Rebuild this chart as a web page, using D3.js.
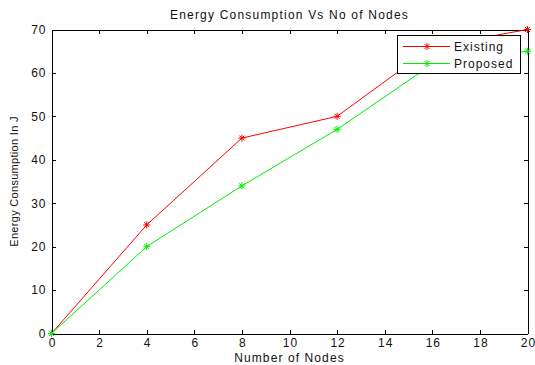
<!DOCTYPE html>
<html lang="en">
<head>
    <meta charset="UTF-8">
    <title>Energy Consumption Vs No of Nodes</title>
    <script src="https://d3js.org/d3.v7.min.js"></script>
    <style>
        html, body {
            margin: 0;
            padding: 0;
            background: #ffffff;
            overflow: hidden;
        }

        svg {
            display: block;
            font-family: "Liberation Sans", Arial, sans-serif;
        }

        .axis path, .axis line {
            stroke: #000;
            shape-rendering: crispEdges;
        }

        .axis text {
            font-size: 12px;
            letter-spacing: 1px;
            fill: #111;
        }

        .series {
            fill: none;
            stroke-width: 1;
        }
    </style>
</head>
<body>

    <svg></svg>

    <script>
        // chart data
        const nodes = [0, 4, 8, 12, 16, 20];
        const existing = [0, 25, 45, 50, 66, 70];
        const proposed = [0, 20, 34, 47, 62, 65];
        const xTicks = [0, 2, 4, 6, 8, 10, 12, 14, 16, 18, 20];
        const yTicks = [0, 10, 20, 30, 40, 50, 60, 70];
        const seriesNames = ["Existing", "Proposed"];
        const seriesColors = ["#ff0000", "#00ee00"];

        const width = 535,
              height = 365;
        const margin = {top: 29.5, right: 7.5, bottom: 31.5, left: 51.5};

        const svg = d3.select("svg")
            .attr("width", width)
            .attr("height", height);

        const x = d3.scaleLinear()
            .domain([0, 20])
            .range([margin.left, width - margin.right]);

        const y = d3.scaleLinear()
            .domain([0, 70])
            .range([height - margin.bottom, margin.top]);

        // axes box with inward ticks on all four sides
        svg.append("g")
            .attr("class", "axis")
            .attr("transform", `translate(0,${y(0)})`)
            .call(d3.axisBottom(x).tickValues(xTicks).tickSizeInner(-4).tickSizeOuter(0).tickPadding(5))
            .selectAll("text").attr("dx", "0.5px");

        svg.append("g")
            .attr("class", "axis")
            .attr("transform", `translate(0,${y(70)})`)
            .call(d3.axisTop(x).tickValues(xTicks).tickSizeInner(-4).tickSizeOuter(0).tickFormat(""));

        svg.append("g")
            .attr("class", "axis")
            .attr("transform", `translate(${x(0)},0)`)
            .call(d3.axisLeft(y).tickValues(yTicks).tickSizeInner(-4).tickSizeOuter(0).tickPadding(5));

        svg.append("g")
            .attr("class", "axis")
            .attr("transform", `translate(${x(20)},0)`)
            .call(d3.axisRight(y).tickValues(yTicks).tickSizeInner(-4).tickSizeOuter(0).tickFormat(""));

        // title and axis labels
        svg.append("text")
            .attr("x", (x(0) + x(20)) / 2)
            .attr("y", 19)
            .attr("text-anchor", "middle")
            .attr("font-size", 12)
            .attr("letter-spacing", 1.2)
            .attr("fill", "#111")
            .text("Energy Consumption Vs No of Nodes");

        svg.append("text")
            .attr("x", (x(0) + x(20)) / 2)
            .attr("y", 362)
            .attr("text-anchor", "middle")
            .attr("font-size", 12)
            .attr("letter-spacing", 1.1)
            .attr("fill", "#111")
            .text("Number of Nodes");

        svg.append("text")
            .attr("transform", `translate(18,${(y(0) + y(70)) / 2}) rotate(-90)`)
            .attr("text-anchor", "middle")
            .attr("font-size", 11)
            .attr("letter-spacing", 0.3)
            .attr("fill", "#111")
            .text("Energy Consumption In J");

        // asterisk marker
        function star(g, cx, cy, color, r) {
            const d = r * 0.72;
            const p = `M${cx - r},${cy}L${cx + r},${cy}M${cx},${cy - r}L${cx},${cy + r}` +
                      `M${cx - d},${cy - d}L${cx + d},${cy + d}M${cx - d},${cy + d}L${cx + d},${cy - d}`;
            g.append("path").attr("d", p).attr("stroke", color).attr("stroke-width", 1).attr("fill", "none");
        }

        const line = d3.line()
            .x(d => x(d[0]))
            .y(d => y(d[1]));

        [existing, proposed].forEach((vals, i) => {
            const pts = nodes.map((n, j) => [n, vals[j]]);
            const g = svg.append("g");
            g.append("path")
                .attr("class", "series")
                .attr("stroke", seriesColors[i])
                .attr("d", line(pts));
            pts.forEach(p => star(g, x(p[0]), y(p[1]), seriesColors[i], 3.5));
        });

        // legend
        const legend = svg.append("g");
        legend.append("rect")
            .attr("x", 397.5)
            .attr("y", 35.5)
            .attr("width", 123)
            .attr("height", 38)
            .attr("fill", "#fff")
            .attr("stroke", "#000")
            .attr("shape-rendering", "crispEdges");

        seriesNames.forEach((name, i) => {
            const ly = 46.5 + i * 17;
            legend.append("line")
                .attr("x1", 403).attr("x2", 450)
                .attr("y1", ly).attr("y2", ly)
                .attr("stroke", seriesColors[i]);
            star(legend, 427, ly, seriesColors[i], 3.5);
            legend.append("text")
                .attr("x", 454)
                .attr("y", ly + 4)
                .attr("font-size", 12)
                .attr("letter-spacing", 1)
                .attr("fill", "#111")
                .text(name);
        });
    </script>
</body>
</html>
